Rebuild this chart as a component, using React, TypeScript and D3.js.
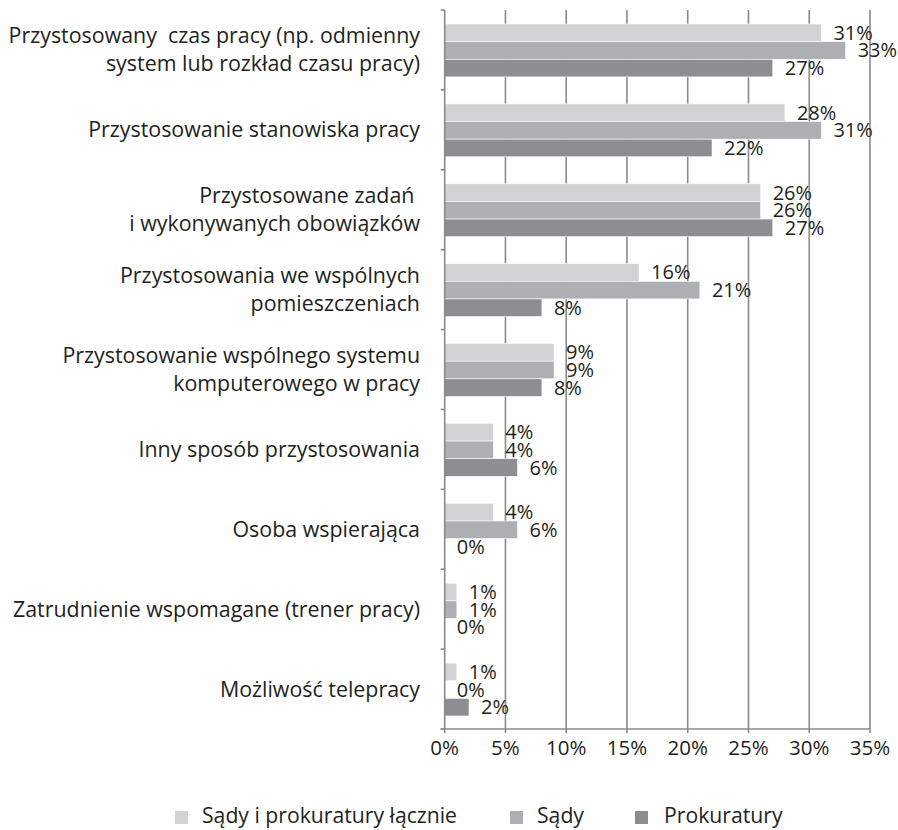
import React from "react";
import * as d3 from "d3";

const categories: string[][] = [
  ["Przystosowany  czas pracy (np. odmienny", "system lub rozkład czasu pracy)"],
  ["Przystosowanie stanowiska pracy"],
  ["Przystosowane zadań ", "i wykonywanych obowiązków"],
  ["Przystosowania we wspólnych", "pomieszczeniach"],
  ["Przystosowanie wspólnego systemu", "komputerowego w pracy"],
  ["Inny sposób przystosowania"],
  ["Osoba wspierająca"],
  ["Zatrudnienie wspomagane (trener pracy)"],
  ["Możliwość telepracy"],
];

const seriesNames = ["Sądy i prokuratury łącznie", "Sądy", "Prokuratury"];
const laczne = [31, 28, 26, 16, 9, 4, 4, 1, 1];
const sady = [33, 31, 26, 21, 9, 4, 6, 1, 0];
const prokuratury = [27, 22, 27, 8, 8, 6, 0, 0, 2];
const xTicks = [0, 5, 10, 15, 20, 25, 30, 35];

const colors = ["#d1d2d4", "#aeafb2", "#8d8e91"];
const textColor = "#231f20";
const gridColor = "#8a8a8d";
const font = "'Open Sans', sans-serif";

export default function App() {
  const W = 898;
  const H = 830;
  const left = 444.7;
  const right = 870;
  const top = 10;
  const bottom = 729;
  const series = [laczne, sady, prokuratury];

  const x = d3.scaleLinear().domain([0, 35]).range([left, right]);
  const y = d3
    .scaleBand<number>()
    .domain(d3.range(categories.length))
    .range([top, bottom]);
  const inner = d3
    .scaleBand<number>()
    .domain([0, 1, 2])
    .range([14, y.bandwidth() - 13]);

  const legendItems = [
    { sq: 175, tx: 202 },
    { sq: 510, tx: 537 },
    { sq: 635, tx: 664 },
  ];

  return (
    <svg
      width={W}
      height={H}
      style={{ position: "absolute", left: 0, top: 0 }}
      fontFamily={font}
    >
      <rect width={W} height={H} fill="#fff" />
      {/* gridlines */}
      {xTicks.slice(1).map((t) => (
        <line
          key={"g" + t}
          x1={x(t)}
          x2={x(t)}
          y1={top}
          y2={bottom + 4}
          stroke={gridColor}
          strokeWidth={1.6}
        />
      ))}
      {/* bars */}
      {categories.map((_, i) =>
        series.map((s, k) => {
          const y0 = (y(i) as number) + (inner(k) as number);
          const bh = inner.bandwidth();
          const v = s[i];
          return (
            <g key={`b${i}-${k}`}>
              {v > 0 && (
                <rect
                  x={x(0)}
                  y={y0}
                  width={x(v) - x(0)}
                  height={bh}
                  fill={colors[k]}
                  stroke="#fff"
                  strokeWidth={0.6}
                />
              )}
              <text
                x={x(v) + 12}
                y={y0 + bh / 2}
                dy="0.35em"
                fontSize={20}
                fill={textColor}
              >
                {v}%
              </text>
            </g>
          );
        })
      )}
      {/* y axis */}
      <line x1={left} x2={left} y1={top} y2={bottom} stroke={gridColor} strokeWidth={1.6} />
      {d3.range(categories.length + 1).map((i) => {
        const yy = i < categories.length ? (y(i) as number) : bottom;
        return (
          <line key={"yt" + i} x1={left - 4} x2={left} y1={yy} y2={yy} stroke={gridColor} strokeWidth={1.6} />
        );
      })}
      {/* x axis */}
      <line x1={left - 4} x2={right} y1={bottom} y2={bottom} stroke={gridColor} strokeWidth={1.6} />
      <line x1={left} x2={left} y1={bottom} y2={bottom + 4} stroke={gridColor} strokeWidth={1.6} />
      {xTicks.map((t) => (
        <text
          key={"xt" + t}
          x={x(t)}
          y={748}
          dy="0.35em"
          textAnchor="middle"
          fontSize={20.5}
          fill={textColor}
        >
          {t}%
        </text>
      ))}
      {/* category labels */}
      {categories.map((lines, i) => {
        const cy = (y(i) as number) + y.bandwidth() / 2;
        const lh = 28;
        const start = cy - ((lines.length - 1) * lh) / 2;
        return (
          <text
            key={"c" + i}
            textAnchor="end"
            fontSize={21.4}
            fill={textColor}
            style={{ whiteSpace: "pre" }}
          >
            {lines.map((ln, j) => (
              <tspan key={j} x={420} y={start + j * lh} dy="0.35em">
                {ln}
              </tspan>
            ))}
          </text>
        );
      })}
      {/* legend */}
      {seriesNames.map((n, k) => (
        <g key={"l" + k}>
          <rect x={legendItems[k].sq} y={811} width={13} height={13} fill={colors[k]} />
          <text x={legendItems[k].tx} y={816} dy="0.35em" fontSize={21.2} fill={textColor}>
            {n}
          </text>
        </g>
      ))}
    </svg>
  );
}
